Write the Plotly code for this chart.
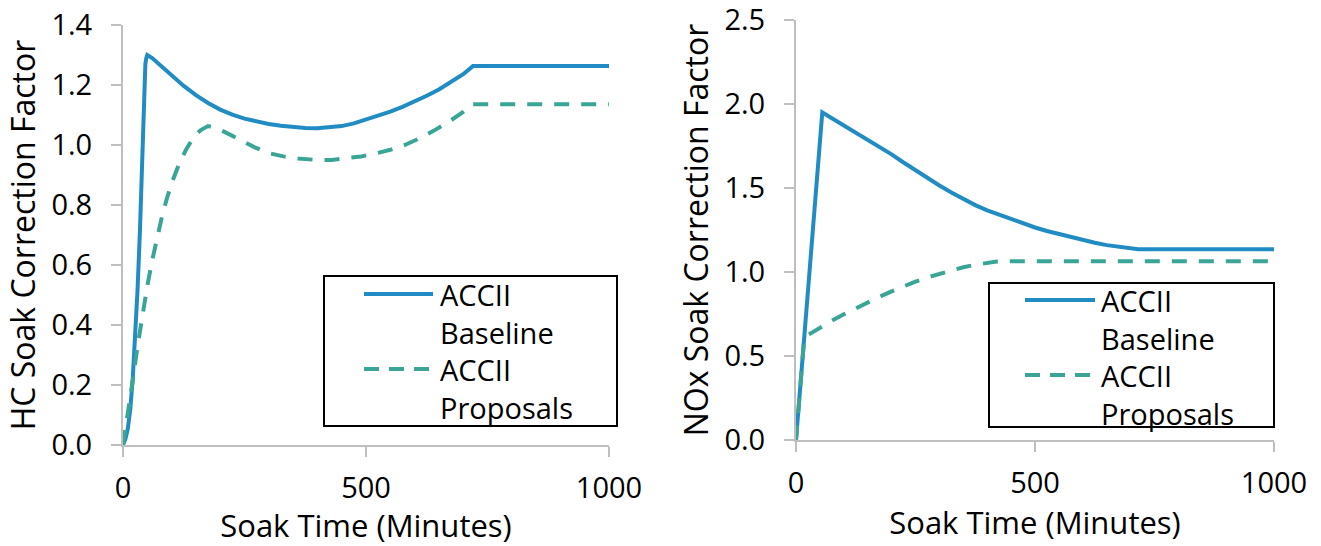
import plotly.graph_objects as go

W, H = 1321, 546

# ---- HC soak correction factor ----
hc_base_t = [0, 5, 10, 15, 20, 25, 30, 35, 38, 40, 42, 44, 46, 48, 50, 60, 75, 90, 100,
             125, 150, 175, 200, 225, 250, 275, 300, 325, 350, 375, 400, 425, 450, 475,
             500, 525, 550, 575, 600, 625, 650, 675, 700, 720, 1000]
hc_base_v = [0.0, 0.02, 0.055, 0.12, 0.22, 0.35, 0.52, 0.72, 0.88, 1.00, 1.12, 1.22, 1.27,
             1.29, 1.30, 1.29, 1.268, 1.245, 1.231, 1.197, 1.166, 1.140, 1.118, 1.101,
             1.088, 1.078, 1.070, 1.064, 1.060, 1.057, 1.056, 1.058, 1.063, 1.072, 1.084,
             1.097, 1.111, 1.127, 1.145, 1.164, 1.185, 1.209, 1.236, 1.263, 1.263]

hc_prop_t = [0, 10, 20, 30, 40, 50, 60, 70, 80, 90, 100, 115, 130, 145, 160, 175, 190,
             210, 240, 270, 300, 330, 360, 400, 430, 460, 490, 520, 550, 580, 610, 640,
             670, 700, 720, 1000]
hc_prop_v = [0.0, 0.10, 0.215, 0.33, 0.44, 0.53, 0.615, 0.69, 0.76, 0.82, 0.872, 0.935,
             0.985, 1.025, 1.05, 1.063, 1.057, 1.043, 1.018, 0.993, 0.973, 0.962, 0.955,
             0.950, 0.950, 0.955, 0.962, 0.972, 0.984, 1.000, 1.022, 1.048, 1.077, 1.110,
             1.136, 1.136]

# ---- NOx soak correction factor ----
nox_base_t = [0, 55, 75, 100, 125, 150, 175, 200, 225, 250, 275, 300, 325, 350, 375, 400,
              425, 450, 475, 500, 525, 550, 575, 600, 625, 650, 675, 700, 716, 1000]
nox_base_v = [0.0, 1.95, 1.915, 1.872, 1.830, 1.788, 1.747, 1.700, 1.652, 1.605, 1.560,
              1.515, 1.473, 1.433, 1.398, 1.367, 1.340, 1.314, 1.288, 1.265, 1.244, 1.225,
              1.207, 1.190, 1.174, 1.160, 1.149, 1.140, 1.135, 1.135]

nox_prop_t = [0, 17, 25, 50, 75, 100, 125, 150, 175, 200, 225, 250, 275, 300, 325, 350,
              375, 400, 420, 440, 1000]
nox_prop_v = [0.0, 0.60, 0.625, 0.67, 0.71, 0.748, 0.785, 0.82, 0.853, 0.885, 0.915, 0.943,
              0.968, 0.99, 1.01, 1.028, 1.043, 1.055, 1.062, 1.064, 1.064]

x_ticks = [0, 500, 1000]
hc_ticks = [0.0, 0.2, 0.4, 0.6, 0.8, 1.0, 1.2, 1.4]
nox_ticks = [0.0, 0.5, 1.0, 1.5, 2.0, 2.5]
series_names = ["ACCII<br>Baseline", "ACCII<br>Proposals"]

BLUE = "#218CC4"
TEAL = "#3AA596"
GRID = "#BFBFBF"
FONT = "Open Sans"
DASH = "15px,12px"

fig = go.Figure()

fig.add_trace(go.Scatter(x=hc_base_t, y=hc_base_v, mode="lines", name=series_names[0],
                         line=dict(color=BLUE, width=4), xaxis="x", yaxis="y"))
fig.add_trace(go.Scatter(x=hc_prop_t, y=hc_prop_v, mode="lines", name=series_names[1],
                         line=dict(color=TEAL, width=4, dash=DASH), xaxis="x", yaxis="y"))
fig.add_trace(go.Scatter(x=nox_base_t, y=nox_base_v, mode="lines", name=series_names[0],
                         line=dict(color=BLUE, width=4), xaxis="x2", yaxis="y2"))
fig.add_trace(go.Scatter(x=nox_prop_t, y=nox_prop_v, mode="lines", name=series_names[1],
                         line=dict(color=TEAL, width=4, dash=DASH), xaxis="x2", yaxis="y2"))


def px_x(p):
    return p / W


def px_y(p):
    return 1 - p / H


axis_common = dict(showline=True, linecolor=GRID, linewidth=2, ticks="outside",
                   ticklen=10, tickwidth=2, tickcolor=GRID, showgrid=False,
                   zeroline=False, automargin=False, ticklabeloverflow="allow",
                   tickfont=dict(family=FONT, size=29, color="black"))
x_title_font = dict(family=FONT, size=31, color="black")
y_title_font = dict(family=FONT, size=32, color="black")

fig.update_layout(
    template="none",
    width=W, height=H, margin=dict(l=0, r=0, t=0, b=0),
    paper_bgcolor="white", plot_bgcolor="white",
    font=dict(family=FONT, size=29, color="black"),
    showlegend=False,
    xaxis=dict(domain=[px_x(123), px_x(609)], range=[0, 1000], tickvals=x_ticks,
               anchor="y", ticklabelstandoff=6,
               title=dict(text="Soak Time (Minutes)", standoff=12, font=x_title_font),
               **axis_common),
    yaxis=dict(domain=[px_y(445), px_y(25)], range=[0, 1.4], tickvals=hc_ticks,
               tickformat=".1f", anchor="x", ticklabelstandoff=13,
               title=dict(text="HC Soak Correction Factor", standoff=6, font=y_title_font),
               **axis_common),
    xaxis2=dict(domain=[px_x(796), px_x(1274)], range=[0, 1000], tickvals=x_ticks,
                anchor="y2", ticklabelstandoff=6,
                title=dict(text="Soak Time (Minutes)", standoff=12, font=x_title_font),
                **axis_common),
    yaxis2=dict(domain=[px_y(440), px_y(20)], range=[0, 2.5], tickvals=nox_ticks,
                tickformat=".1f", anchor="x2", ticklabelstandoff=13,
                title=dict(text="NOx Soak Correction Factor", standoff=6, font=y_title_font),
                **axis_common),
)

# Boxed legends drawn inside each panel
legend_boxes = [
    # box (x0, y0, x1, y1), line x-range, text x, symbol rows, entry centres
    dict(box=(324, 276, 617, 426), lx=(364, 433), tx=438, sym=(294, 369), mid=(313, 388)),
    dict(box=(989, 283, 1274, 427), lx=(1025, 1095), tx=1099, sym=(300, 375), mid=(319, 394)),
]

shapes = []
annotations = []
for lb in legend_boxes:
    x0, y0, x1, y1 = lb["box"]
    shapes.append(dict(type="rect", xref="paper", yref="paper",
                       x0=px_x(x0), x1=px_x(x1), y0=px_y(y1), y1=px_y(y0),
                       line=dict(color="black", width=2), fillcolor="white", layer="above"))
    for (color, dash), ys in zip([(BLUE, "solid"), (TEAL, "15px,10px")], lb["sym"]):
        shapes.append(dict(type="line", xref="paper", yref="paper",
                           x0=px_x(lb["lx"][0]), x1=px_x(lb["lx"][1]),
                           y0=px_y(ys), y1=px_y(ys),
                           line=dict(color=color, width=4, dash=dash), layer="above"))
    for name, ym in zip(series_names, lb["mid"]):
        annotations.append(dict(text=name, xref="paper", yref="paper", x=px_x(lb["tx"]),
                                y=px_y(ym), xanchor="left", yanchor="middle", align="left",
                                showarrow=False,
                                font=dict(family=FONT, size=29, color="black")))

fig.update_layout(shapes=shapes, annotations=annotations)

fig.write_html("out.html")
